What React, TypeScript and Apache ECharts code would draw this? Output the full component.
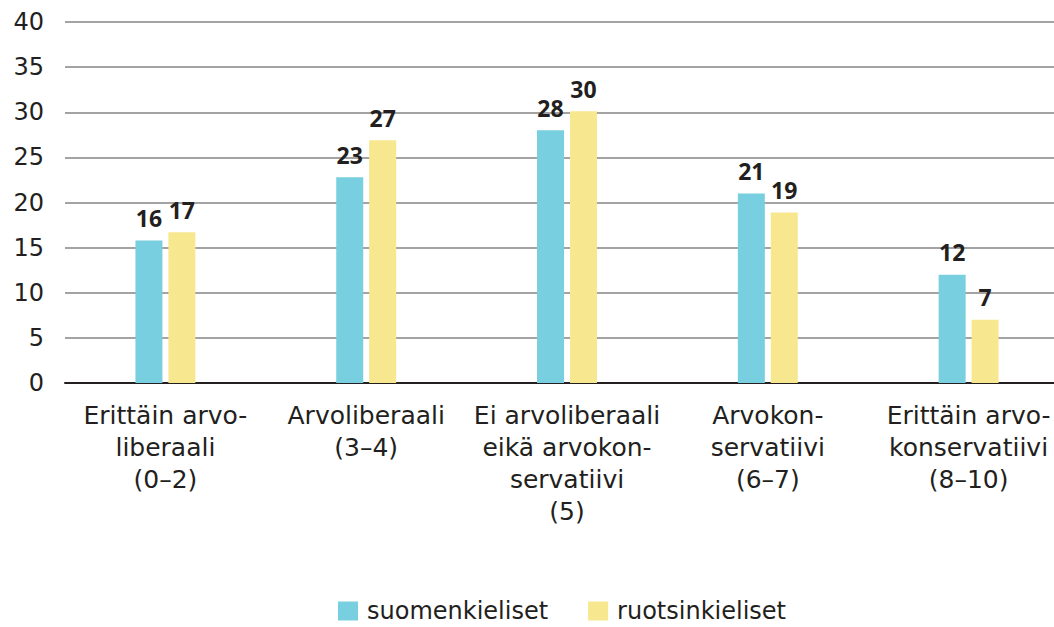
import React, { useEffect, useRef } from "react";
import * as echarts from "echarts";

const categories = [
  "Erittäin arvo-\nliberaali\n(0–2)",
  "Arvoliberaali\n(3–4)",
  "Ei arvoliberaali\neikä arvokon-\nservatiivi\n(5)",
  "Arvokon-\nservatiivi\n(6–7)",
  "Erittäin arvo-\nkonservatiivi\n(8–10)",
];
const finnishSpeakers = [15.8, 22.8, 28.0, 21.0, 12.0];
const swedishSpeakers = [16.7, 26.9, 30.1, 18.9, 7.0];
const seriesNames = ["suomenkieliset", "ruotsinkieliset"];

const FONT = "'DejaVu Sans', sans-serif";
const LABEL_FONT = "'Noto Sans', sans-serif";
const TEXT = "#231f20";

export default function App() {
  const ref = useRef<HTMLDivElement>(null);
  useEffect(() => {
    if (!ref.current) return;
    const chart = echarts.init(ref.current, null, { renderer: "svg" });
    const label = {
      show: true,
      position: "top",
      distance: 11,
      color: TEXT,
      fontFamily: LABEL_FONT,
      fontWeight: "bold",
      fontSize: 23,
      formatter: (p: any) => String(Math.round(p.value)),
    };
    chart.setOption({
      animation: false,
      backgroundColor: "#ffffff",
      textStyle: { fontFamily: FONT },
      grid: {
        left: 65,
        width: 1004,
        top: 22,
        bottom: 244,
        containLabel: false,
        outerBoundsMode: "none",
      },
      legend: {
        data: seriesNames,
        left: 333,
        top: 594,
        itemWidth: 20,
        itemHeight: 19,
        itemGap: 40,
        icon: "rect",
        textStyle: { fontFamily: FONT, fontSize: 24, color: TEXT, padding: [0, 0, 0, 4] },
      },
      xAxis: {
        type: "category",
        data: categories,
        axisLine: { show: true, lineStyle: { color: "#231f20", width: 2 } },
        axisTick: { show: false },
        axisLabel: {
          interval: 0,
          margin: 16,
          fontFamily: FONT,
          fontSize: 25,
          lineHeight: 32,
          color: TEXT,
          align: "center",
        },
      },
      yAxis: {
        type: "value",
        min: 0,
        max: 40,
        interval: 5,
        axisLine: { show: false },
        axisTick: { show: false },
        splitLine: { lineStyle: { color: "#858585", width: 1.5 } },
        axisLabel: { margin: 21, fontFamily: FONT, fontSize: 24, color: TEXT },
      },
      series: [
        {
          name: seriesNames[0],
          type: "bar",
          data: finnishSpeakers,
          barWidth: 27,
          barGap: "22%",
          itemStyle: { color: "#78cfdf" },
          label,
        },
        {
          name: seriesNames[1],
          type: "bar",
          data: swedishSpeakers,
          barWidth: 27,
          barGap: "22%",
          itemStyle: { color: "#f7e78f" },
          label,
        },
      ],
    });
    return () => chart.dispose();
  }, []);
  return (
    <div
      ref={ref}
      style={{ position: "absolute", left: 0, top: 0, width: 1054, height: 627 }}
    />
  );
}
